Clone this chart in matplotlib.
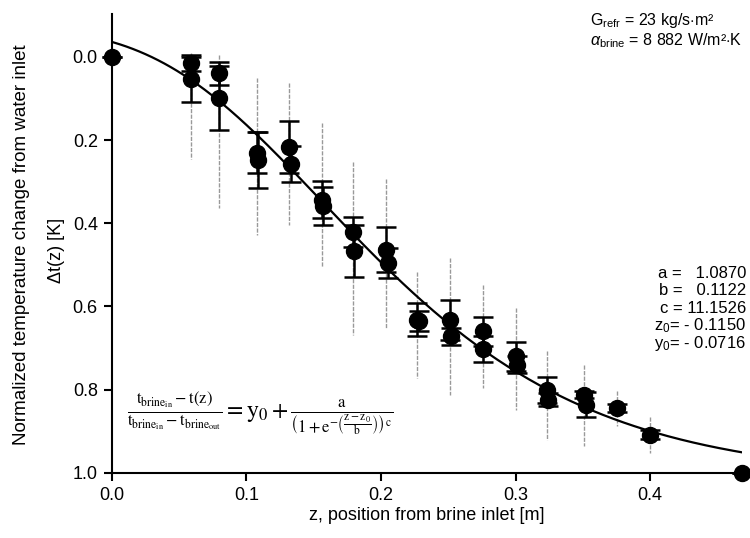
import matplotlib
matplotlib.use("Agg")
import matplotlib.pyplot as plt
import numpy as np

plt.rcParams['font.family'] = ['Liberation Sans', 'DejaVu Sans']
plt.rcParams['mathtext.fontset'] = 'custom'
plt.rcParams['mathtext.rm'] = 'Liberation Sans'
plt.rcParams['mathtext.it'] = 'Liberation Sans:italic'

# measured points (z [m], normalized delta t, error bar half width)
z_pts = [0.0, 0.059, 0.059, 0.080, 0.080, 0.108, 0.109, 0.132, 0.133,
         0.156, 0.157, 0.179, 0.180, 0.204, 0.205, 0.227, 0.228,
         0.251, 0.252, 0.276, 0.276, 0.300, 0.301, 0.323, 0.324,
         0.351, 0.352, 0.375, 0.400, 0.468]
dt_pts = [0.0, 0.015, 0.054, 0.040, 0.099, 0.230, 0.248, 0.217, 0.258,
          0.343, 0.358, 0.420, 0.466, 0.464, 0.496, 0.632, 0.636,
          0.632, 0.672, 0.660, 0.702, 0.720, 0.740, 0.800, 0.824,
          0.812, 0.836, 0.844, 0.908, 1.0]
dt_err = [0.0, 0.020, 0.054, 0.027, 0.077, 0.050, 0.068, 0.063, 0.043,
          0.045, 0.045, 0.036, 0.062, 0.054, 0.036, 0.040, 0.024,
          0.048, 0.020, 0.035, 0.031, 0.034, 0.020, 0.031, 0.016,
          0.008, 0.030, 0.010, 0.010, 0.0]

# raw scatter range (grey lines)
z_raw = [0.059, 0.080, 0.108, 0.132, 0.156, 0.179, 0.204, 0.227,
         0.251, 0.276, 0.300, 0.323, 0.351, 0.375, 0.400]
raw_lo = [-0.010, -0.004, 0.050, 0.064, 0.160, 0.252, 0.294, 0.516,
          0.484, 0.548, 0.604, 0.708, 0.740, 0.804, 0.866]
raw_hi = [0.245, 0.363, 0.428, 0.404, 0.504, 0.668, 0.652, 0.772,
          0.812, 0.796, 0.848, 0.921, 0.936, 0.888, 0.952]

# fit parameters
a, b, c, z0, y0 = 1.0870, 0.1122, 11.1526, -0.1150, -0.0716

fig = plt.figure(figsize=(7.5, 5.38), dpi=100)
ax = fig.add_axes([0.149, 0.121, 0.84, 0.853])

ax.vlines(z_raw, raw_lo, raw_hi, colors='0.6', lw=1.0,
          linestyles=(0, (3, 1)), zorder=1)

zf = np.linspace(0, 0.468, 300)
ax.plot(zf, y0 + a / (1 + np.exp(-(zf - z0) / b)) ** c, color='k', lw=1.6, zorder=2)

ax.errorbar(z_pts, dt_pts, yerr=dt_err, fmt='o', color='k', ms=11.5,
            capsize=7, elinewidth=1.8, capthick=1.8, zorder=3, clip_on=False)

ax.set_xlim(0, 0.468)
ax.set_ylim(1.0, -0.103)
ax.set_xticks([0.0, 0.1, 0.2, 0.3, 0.4])
ax.set_yticks([0.0, 0.2, 0.4, 0.6, 0.8, 1.0])
ax.xaxis.set_major_formatter(matplotlib.ticker.FormatStrFormatter('%.1f'))
ax.yaxis.set_major_formatter(matplotlib.ticker.FormatStrFormatter('%.1f'))
for s in ['top', 'right']:
    ax.spines[s].set_visible(False)
for s in ['left', 'bottom']:
    ax.spines[s].set_linewidth(1.5)
ax.tick_params(direction='out', length=6, width=1.5, labelsize=13, pad=4)

ax.set_xlabel('z, position from brine inlet [m]', fontsize=13, labelpad=2)
fig.text(0.029, 0.545, 'Normalized temperature change from water inlet',
         rotation=90, ha='center', va='center', fontsize=13.5)
fig.text(0.075, 0.535, '\u0394t(z) [K]', rotation=90, ha='center', va='center',
         fontsize=13)

fig.text(590 / 750, 1 - 20 / 538, r'G$_{\rm refr}$ = 23 kg/s$\cdot$m' + '\u00b2',
         ha='left', va='center', fontsize=11.5)
fig.text(590 / 750, 1 - 41 / 538, r'$\alpha_{\rm brine}$ = 8 882 W/m' + '\u00b2' + r'$\cdot$K',
         ha='left', va='center', fontsize=11.5)

params = ['a =   1.0870', 'b =   0.1122', 'c = 11.1526',
          r'z$_0$= - 0.1150', r'y$_0$= - 0.0716']
for i, t in enumerate(params):
    fig.text(746 / 750, 1 - (273 + 17.7 * i) / 538, t, ha='right', va='center',
             fontsize=12)

formula = (r'$\frac{\mathrm{t_{brine_{in}}} - \mathrm{t(z)}}'
           r'{\mathrm{t_{brine_{in}}} - \mathrm{t_{brine_{out}}}}'
           r' = \mathrm{y_0} + \frac{\mathrm{a}}'
           r'{\left(1 + \mathrm{e}^{-\left(\dfrac{\mathrm{z}-\mathrm{z_0}}{\mathrm{b}}\right)}\right)^{\mathrm{c}}}$')
fig.text(127 / 750, 1 - 414 / 538, formula, ha='left', va='center',
         fontsize=17, math_fontfamily='stix')

fig.savefig('out.png', dpi=100)
